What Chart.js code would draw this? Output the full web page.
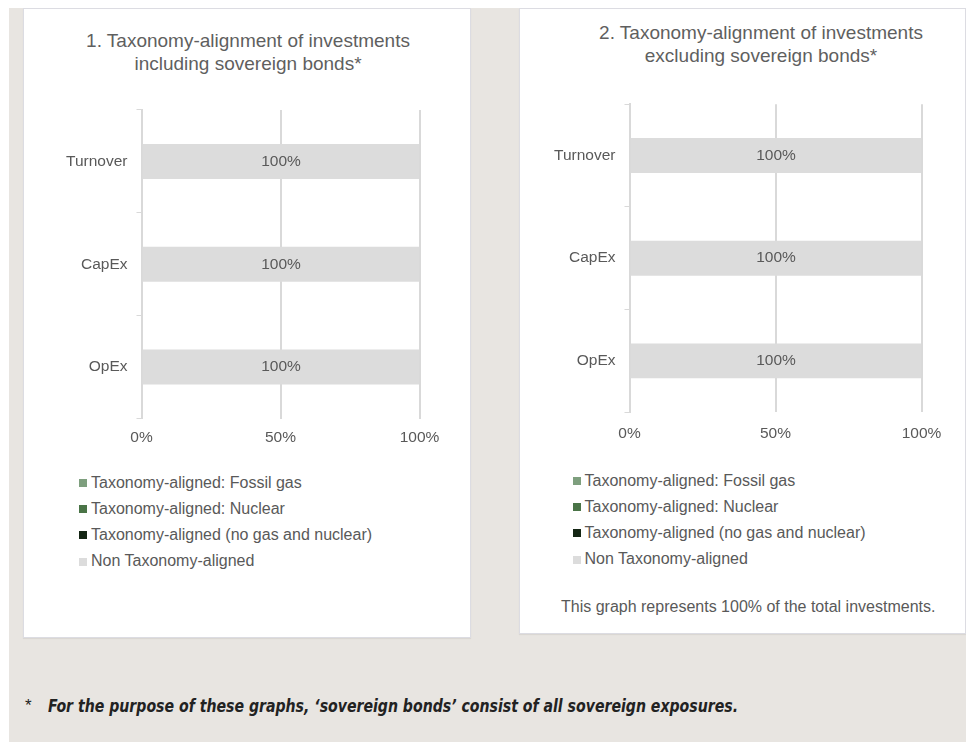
<!DOCTYPE html>
<html>
<head>
<meta charset="utf-8">
<script src="https://cdn.jsdelivr.net/npm/chart.js@4.4.1/dist/chart.umd.min.js"></script>
<style>
  html, body { margin:0; padding:0; background:#ffffff; }
  body { width:966px; height:742px; position:relative; overflow:hidden; font-family:"Liberation Sans", Arial, sans-serif; }
  #bg { position:absolute; left:9px; top:8px; right:0; bottom:0; background:#e8e5e1; }
  .panel { position:absolute; background:#ffffff; border:1px solid #dcdce2; box-sizing:border-box; box-shadow:0 1px 1px rgba(0,0,0,0.06); }
  canvas { position:absolute; }
  .title { position:absolute; text-align:center; color:#5f5f5f; font-size:19px; line-height:23px; white-space:nowrap; }
  .legend { position:absolute; color:#595959; font-size:16px; }
  .legend .row { height:26.3px; line-height:26.3px; display:flex; align-items:center; white-space:nowrap; }
  .legend .sw { width:8px; height:8px; margin-right:4px; flex:none; }
  .note { position:absolute; color:#595959; font-size:16px; line-height:26.3px; white-space:nowrap; }
  #foot { position:absolute; top:694px; color:#222222; font-weight:bold; font-style:italic; font-size:18px; line-height:24px; white-space:nowrap; font-family:"Liberation Sans Narrow","DejaVu Sans Condensed","Liberation Sans",sans-serif; transform-origin:0 50%; }
</style>
</head>
<body>
<div id="bg"></div>
<div class="panel" style="left:23px; top:8px; width:448px; height:630px;"></div>
<div class="panel" style="left:519px; top:8px; width:447px; height:626px;"></div>

<div class="title" id="t1" style="left:23px; width:450px; top:28.6px;"></div>
<div class="title" id="t2" style="left:536px; width:450px; top:21.4px;"></div>

<canvas id="c1" width="448" height="460" style="left:23px; top:8px;"></canvas>
<canvas id="c2" width="447" height="460" style="left:519px; top:8px;"></canvas>

<div class="legend" id="lg1" style="left:79px; top:469.5px;"></div>
<div class="legend" id="lg2" style="left:572.5px; top:467.5px;"></div>
<div class="note" id="note2" style="left:561px; top:593.5px;"></div>

<div id="fstar" style="position:absolute; left:25px; top:694px; color:#222; font-size:17px; line-height:24px; font-family:'Liberation Sans',sans-serif;">*</div>
<div id="foot"></div>

<script>
// ---- data ----
const categories = ["Turnover", "CapEx", "OpEx"];
const seriesLabels = ["Taxonomy-aligned: Fossil gas", "Taxonomy-aligned: Nuclear", "Taxonomy-aligned (no gas and nuclear)", "Non Taxonomy-aligned"];
const seriesColors = ["#7e9f7e", "#4a7447", "#142614", "#dcdcdc"];

const chart1FossilGas = [0, 0, 0];
const chart1Nuclear = [0, 0, 0];
const chart1Aligned = [0, 0, 0];
const chart1NonAligned = [100, 100, 100];

const chart2FossilGas = [0, 0, 0];
const chart2Nuclear = [0, 0, 0];
const chart2Aligned = [0, 0, 0];
const chart2NonAligned = [100, 100, 100];

const xTickValues = [0, 50, 100];
const title1 = ["1. Taxonomy-alignment of investments", "including sovereign bonds*"];
const title2 = ["2. Taxonomy-alignment of investments", "excluding sovereign bonds*"];
const note2Text = "This graph represents 100% of the total investments.";
const footText = "For the purpose of these graphs, \u2018sovereign bonds\u2019 consist of all sovereign exposures.";

// ---- text ----
document.getElementById('t1').innerHTML = title1.join('<br>');
document.getElementById('t2').innerHTML = title2.join('<br>');
document.getElementById('note2').textContent = note2Text;
const foot = document.getElementById('foot');
foot.textContent = footText;

function buildLegend(id) {
  const el = document.getElementById(id);
  seriesLabels.forEach((lab, i) => {
    const row = document.createElement('div'); row.className = 'row';
    const sw = document.createElement('span'); sw.className = 'sw'; sw.style.background = seriesColors[i];
    const tx = document.createElement('span'); tx.textContent = lab;
    row.appendChild(sw); row.appendChild(tx); el.appendChild(row);
  });
}
buildLegend('lg1'); buildLegend('lg2');

// fit footnote to its width
(function(){
  const w = foot.getBoundingClientRect().width;
  const target = 690;
  foot.style.left = '48px';
  foot.style.transform = 'scaleX(' + (target / w) + ')';
})();

// ---- chart ----
const TXT = '#595959';
const GRID = '#d9d9d9';

const valueLabels = {
  id: 'valueLabels',
  afterDatasetsDraw(chart) {
    const ctx = chart.ctx;
    ctx.save();
    ctx.font = '15.5px "Liberation Sans", Arial, sans-serif';
    ctx.fillStyle = TXT;
    ctx.textAlign = 'center';
    ctx.textBaseline = 'middle';
    chart.data.datasets.forEach((ds, di) => {
      const meta = chart.getDatasetMeta(di);
      meta.data.forEach((bar, i) => {
        const v = ds.data[i];
        if (v > 0) {
          ctx.fillText(v + '%', (bar.x + bar.base) / 2, bar.y);
        }
      });
    });
    ctx.restore();
  }
};

function makeChart(id, series, opt) {
  const datasets = series.map((d, i) => ({
    label: seriesLabels[i],
    data: d,
    backgroundColor: seriesColors[i],
    borderWidth: 0,
    barPercentage: 0.34,
    categoryPercentage: 1.0
  }));
  return new Chart(document.getElementById(id), {
    type: 'bar',
    data: { labels: categories, datasets },
    plugins: [valueLabels],
    options: {
      indexAxis: 'y',
      responsive: false,
      animation: false,
      devicePixelRatio: 1,
      layout: { padding: { left: 0, right: opt.padRight, top: opt.padTop, bottom: opt.padBottom } },
      plugins: { legend: { display: false }, tooltip: { enabled: false }, title: { display: false } },
      scales: {
        x: {
          stacked: true,
          min: 0, max: 100,
          afterBuildTicks(scale) { scale.ticks = xTickValues.map(v => ({ value: v })); },
          afterFit(scale) { scale.height = 30; },
          ticks: { color: TXT, font: { size: 15.5, family: '"Liberation Sans", Arial, sans-serif' }, padding: opt.xPad, callback: v => v + '%' },
          grid: { color: GRID, lineWidth: 2, drawTicks: false },
          border: { display: false }
        },
        y: {
          stacked: true,
          afterFit(scale) { scale.width = opt.yWidth; },
          ticks: { color: TXT, font: { size: 15.5, family: '"Liberation Sans", Arial, sans-serif' }, padding: 9 },
          grid: { drawOnChartArea: false, drawTicks: true, tickLength: 5, color: GRID, lineWidth: 1 },
          border: { display: true, color: GRID, width: 2 }
        }
      }
    }
  });
}

makeChart('c1', [chart1FossilGas, chart1Nuclear, chart1Aligned, chart1NonAligned],
  { yWidth: 118.5, padRight: 51.5, padTop: 102, padBottom: 19.5, xPad: 10 });
makeChart('c2', [chart2FossilGas, chart2Nuclear, chart2Aligned, chart2NonAligned],
  { yWidth: 110.5, padRight: 44.5, padTop: 96.2, padBottom: 25.8, xPad: 12 });
</script>
</body>
</html>
